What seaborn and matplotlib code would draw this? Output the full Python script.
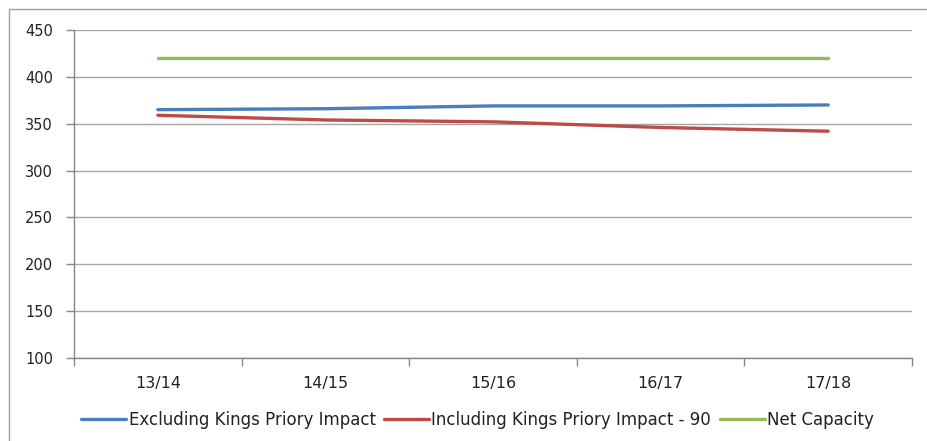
import pandas as pd
import matplotlib.pyplot as plt
import seaborn as sns
from matplotlib.patches import Rectangle

# chart data
years = ["13/14", "14/15", "15/16", "16/17", "17/18"]
excl_kings = [365, 366, 369, 369, 370]
incl_kings = [359, 354, 352, 346, 342]
net_capacity = [420, 420, 420, 420, 420]
series_names = ["Excluding Kings Priory Impact", "Including Kings Priory Impact - 90", "Net Capacity"]
colours = ["#4A7EBB", "#BE4B48", "#98B954"]

rows = []
for name, vals in zip(series_names, [excl_kings, incl_kings, net_capacity]):
    for i, v in enumerate(vals):
        rows.append({"pos": i, "year": years[i], "value": v, "series": name})
df = pd.DataFrame(rows)

sns.set_style("white")
plt.rcParams['font.family'] = ['DejaVu Sans']

fig = plt.figure(figsize=(9.28, 4.41), dpi=100)
ax = fig.add_axes([74/928, 1-358/441, (912-74)/928, (358-30)/441])

sns.lineplot(data=df, x="pos", y="value", hue="series", palette=colours,
             linewidth=2.4, ax=ax, legend=True)

ax.set_xlim(-0.5, 4.5)
ax.set_ylim(100, 450)
ax.set_yticks(range(100, 451, 50))
ax.yaxis.grid(True, color="#a6a6a6", linewidth=1)
ax.set_axisbelow(True)
ax.set_xlabel("")
ax.set_ylabel("")

# category labels in the middle, tick marks at boundaries
ax.set_xticks(range(len(years)))
ax.set_xticklabels(years, fontsize=11.5)
ax.set_xticks([x - 0.5 for x in range(len(years) + 1)], minor=True)
ax.tick_params(axis="x", which="major", length=0, pad=13)
ax.tick_params(axis="x", which="minor", length=6, color="#868686", width=1, direction="out")
ax.tick_params(axis="y", length=6, color="#868686", width=1, direction="out", labelsize=10.5, pad=9)
for t in ax.get_yticklabels():
    t.set_color("#222222")
for t in ax.get_xticklabels():
    t.set_color("#222222")
ax.xaxis.set_ticks_position("bottom")
ax.yaxis.set_ticks_position("left")

for s in ["top", "right"]:
    ax.spines[s].set_visible(False)
for s in ["left", "bottom"]:
    ax.spines[s].set_color("#868686")
    ax.spines[s].set_linewidth(1)

handles, labels = ax.get_legend_handles_labels()
leg = ax.legend(handles, labels, loc="center", bbox_to_anchor=(477.5/928, 1-420/441),
                bbox_transform=fig.transFigure, ncol=3, frameon=False,
                handlelength=2.7, handletextpad=0.15, columnspacing=0.5,
                prop={"size": 12})
for t in leg.get_texts():
    t.set_color("#222222")

# outer chart frame
fig.patches.append(Rectangle((9/928, -0.05), 1.0, 1 - 9/441 + 0.05, transform=fig.transFigure,
                             fill=False, edgecolor="#a0a0a0", linewidth=1))

fig.savefig("out.png", dpi=100)
